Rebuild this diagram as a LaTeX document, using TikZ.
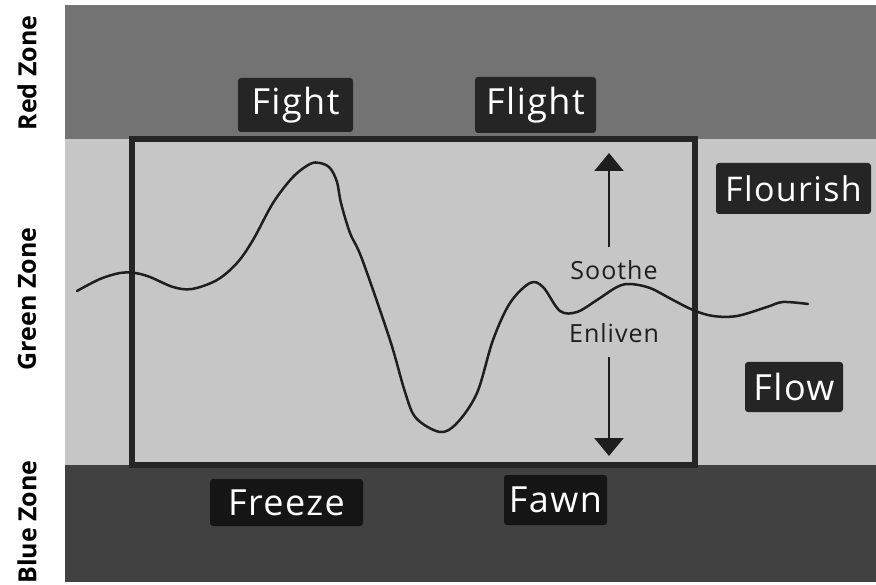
\documentclass[tikz,border=0pt]{standalone}
\usepackage{fontspec}
\setmainfont{Open Sans}
\newfontfamily\lblfont[LetterSpace=4]{Open Sans}
\usetikzlibrary{arrows.meta}
\definecolor{redz}{HTML}{737373}
\definecolor{greenz}{HTML}{C6C6C6}
\definecolor{bluez}{HTML}{414141}
\definecolor{boxtop}{HTML}{252525}
\definecolor{boxbot}{HTML}{151515}
\definecolor{ink}{HTML}{1E1E1E}
\tikzset{
  lbl/.style={fill=boxtop, text=white, rounded corners=3pt, inner sep=0pt,
    font=\lblfont\fontsize{36}{40}\selectfont, align=center},
  lblbot/.style={lbl, fill=boxbot},
  zonetxt/.style={rotate=90, text=black, font=\bfseries\fontsize{25}{28}\selectfont, inner sep=0pt},
  midtxt/.style={text=ink, font=\lblfont\fontsize{25}{28}\selectfont, inner sep=0pt},
  arr/.style={draw=ink, line width=2.5pt, -{Triangle[width=29pt,length=18pt]}},
}
\begin{document}
\begin{tikzpicture}[x=1pt,y=-1pt]
\useasboundingbox (0,0) rectangle (876,585);
\fill[white] (0,0) rectangle (876,585);
% zones
\fill[redz] (65,5) rectangle (876,139);
\fill[greenz] (65,139) rectangle (876,465);
\fill[bluez] (65,465) rectangle (876,582);
% side labels
\node[zonetxt] (rz) at (27,73) {Red Zone};
\node[zonetxt] (gz) at (27,299) {Green Zone};
\node[zonetxt] (bz) at (27,522) {Blue Zone};
% frame
\draw[boxtop, line width=5.5pt] (132,139) rectangle (695,465);
% curve
\draw[ink, line width=2.5pt, line join=round, line cap=round] plot[smooth, tension=0.55] coordinates {
(77,291) (100,279) (120,273) (135,273) (150,277) (173,287) (192,289) (217,280)
(237,263) (253,240) (273,203) (293,177) (310,164) (320,163) (330,168) (337,182)
(341,203) (350,233) (362,259) (390,340) (405,392) (416,418) (440,432) (457,423)
(477,393) (493,340) (510,303) (530,283) (543,287) (560,311) (577,312) (597,300)
(617,287) (630,284) (650,288) (673,300) (693,310) (713,316) (737,316) (767,307)
(783,302) (808,304)};
% labels
\node[lbl, minimum width=115pt, minimum height=54pt] (fight) at (295.5,105) {Fight};
\node[lbl, minimum width=121pt, minimum height=56pt] (flight) at (535.5,105) {Flight};
\node[lbl, minimum width=155pt, minimum height=51pt, font=\lblfont\fontsize{34}{40}\selectfont] (flourish) at (793.5,188.5) {Flourish};
\node[lbl, minimum width=98pt, minimum height=50pt] (flow) at (794,387) {Flow};
\node[lblbot, minimum width=153pt, minimum height=47pt] (freeze) at (286.5,502.5) {Freeze};
\node[lblbot, minimum width=103pt, minimum height=50pt] (fawn) at (555.5,500) {Fawn};
% soothe / enliven
\node[midtxt] (soothe) at (614,270) {Soothe};
\node[midtxt] (enliven) at (614,333) {Enliven};
\coordinate (upstart) at (609,247);
\coordinate (upend) at (609,153);
\coordinate (dnstart) at (609,357);
\coordinate (dnend) at (609,456);
\draw[arr] (upstart) -- (upend);
\draw[arr] (dnstart) -- (dnend);
\end{tikzpicture}
\end{document}
